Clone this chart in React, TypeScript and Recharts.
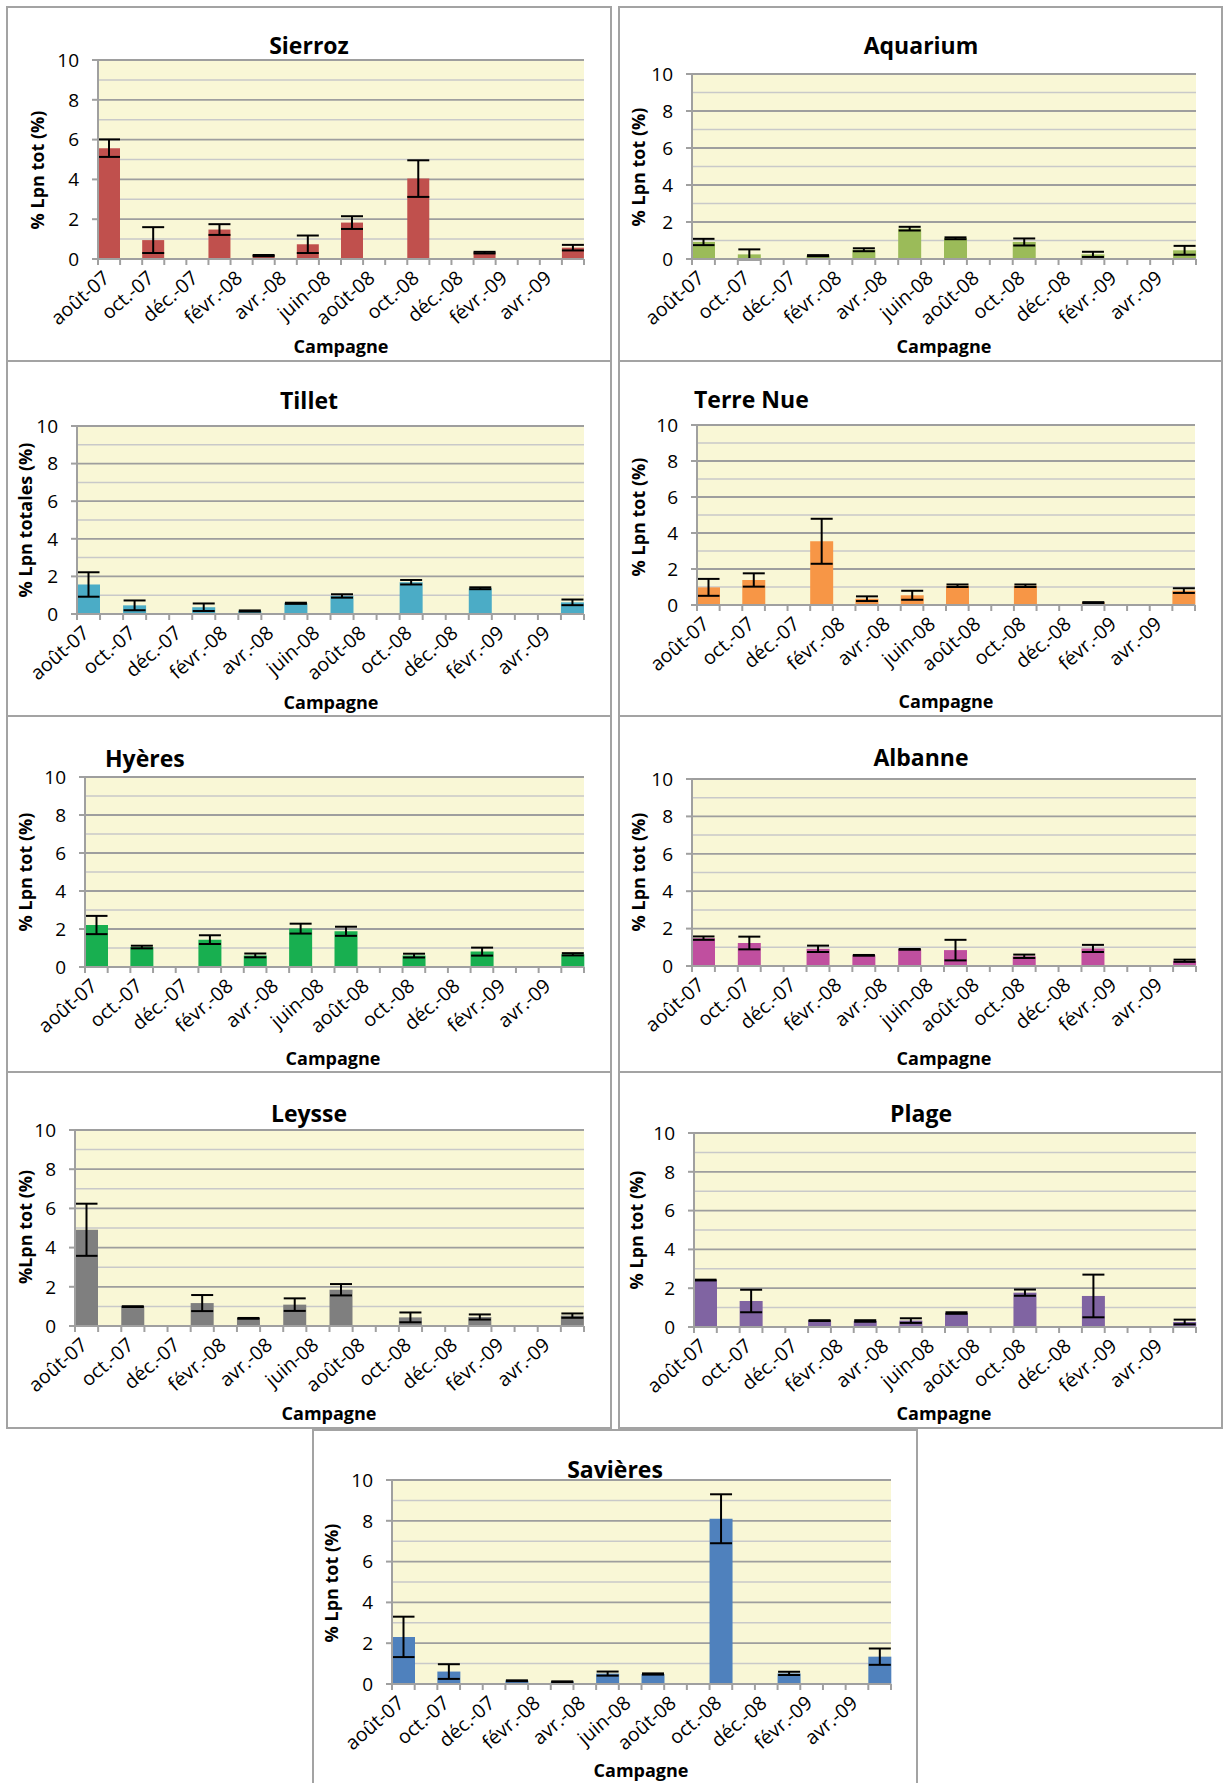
import React from 'react';
import { BarChart, Bar, XAxis, YAxis, CartesianGrid, ErrorBar } from 'recharts';

// ---------- data ----------
const months = ['août-07', 'sept.-07', 'oct.-07', 'nov.-07', 'déc.-07', 'janv.-08', 'févr.-08', 'mars-08', 'avr.-08', 'mai-08', 'juin-08', 'juil.-08', 'août-08', 'sept.-08', 'oct.-08', 'nov.-08', 'déc.-08', 'janv.-09', 'févr.-09', 'mars-09', 'avr.-09', 'mai-09'];
const campaigns = ['août-07', 'oct.-07', 'janv.-08', 'mars-08', 'mai-08', 'juil.-08', 'oct.-08', 'janv.-09', 'mai-09'];
const majorTicks = [0, 2, 4, 6, 8, 10];
const minorTicks = [1, 3, 5, 7, 9];

const sierrozValues = [5.57, 0.95, 1.48, 0.17, 0.74, 1.83, 4.04, 0.32, 0.57];
const sierrozErrors = [0.44, 0.65, 0.27, 0.03, 0.44, 0.32, 0.92, 0.04, 0.14];
const aquariumValues = [0.92, 0.25, 0.18, 0.5, 1.64, 1.12, 0.92, 0.25, 0.47];
const aquariumErrors = [0.17, 0.27, 0.03, 0.08, 0.1, 0.05, 0.19, 0.14, 0.24];
const tilletValues = [1.57, 0.46, 0.36, 0.16, 0.57, 0.96, 1.69, 1.37, 0.62];
const tilletErrors = [0.65, 0.26, 0.2, 0.03, 0.03, 0.09, 0.12, 0.05, 0.15];
const terreNueValues = [0.98, 1.39, 3.54, 0.35, 0.54, 1.07, 1.07, 0.13, 0.8];
const terreNueErrors = [0.47, 0.37, 1.25, 0.13, 0.25, 0.07, 0.07, 0.03, 0.13];
const hyeresValues = [2.21, 1.05, 1.44, 0.61, 2.02, 1.88, 0.6, 0.81, 0.67];
const hyeresErrors = [0.48, 0.07, 0.23, 0.1, 0.26, 0.24, 0.1, 0.21, 0.06];
const albanneValues = [1.49, 1.23, 0.92, 0.57, 0.89, 0.85, 0.52, 0.94, 0.28];
const albanneErrors = [0.09, 0.34, 0.17, 0.02, 0.02, 0.55, 0.09, 0.19, 0.06];
const leysseValues = [4.91, 0.99, 1.17, 0.39, 1.09, 1.85, 0.44, 0.46, 0.53];
const leysseErrors = [1.33, 0.02, 0.41, 0.02, 0.32, 0.29, 0.25, 0.13, 0.11];
const plageValues = [2.42, 1.34, 0.33, 0.31, 0.33, 0.72, 1.77, 1.6, 0.26];
const plageErrors = [0.02, 0.58, 0.02, 0.04, 0.12, 0.04, 0.16, 1.1, 0.12];
const savieresValues = [2.31, 0.61, 0.16, 0.11, 0.51, 0.49, 8.1, 0.52, 1.34];
const savieresErrors = [0.99, 0.36, 0.02, 0.02, 0.1, 0.03, 1.2, 0.08, 0.4];

const FONT = "'Open Sans', 'DejaVu Sans', sans-serif";
const BG = '#F9F7D6';
const AXIS = '#A0A0A0';

type Panel = {
  title: string; yLabel: string; color: string; values: number[]; errors: number[];
  box: [number, number, number, number];
  plot: [number, number, number, number]; // left, right, top, bottom
  titlePos: [number, number]; titleAlign: 'center' | 'left';
  xTitlePos: [number, number]; yTitlePos: [number, number];
};

const panels: Panel[] = [
  { title: 'Sierroz', yLabel: '% Lpn tot (%)', color: '#C0504D', values: sierrozValues, errors: sierrozErrors,
    box: [6, 6, 606, 356], plot: [98, 584, 60, 259], titlePos: [309, 45], titleAlign: 'center', xTitlePos: [341, 346], yTitlePos: [37, 170] },
  { title: 'Aquarium', yLabel: '% Lpn tot (%)', color: '#9BBB59', values: aquariumValues, errors: aquariumErrors,
    box: [618, 6, 605, 356], plot: [692, 1196, 74, 259], titlePos: [921, 45], titleAlign: 'center', xTitlePos: [944, 346], yTitlePos: [638, 167] },
  { title: 'Tillet', yLabel: '% Lpn totales (%)', color: '#4BACC6', values: tilletValues, errors: tilletErrors,
    box: [6, 360, 606, 357], plot: [77, 584, 426, 614], titlePos: [309, 400], titleAlign: 'center', xTitlePos: [331, 702], yTitlePos: [25, 520] },
  { title: 'Terre Nue', yLabel: '% Lpn tot (%)', color: '#F79646', values: terreNueValues, errors: terreNueErrors,
    box: [618, 360, 605, 357], plot: [697, 1195, 425, 605], titlePos: [694, 399], titleAlign: 'left', xTitlePos: [946, 701], yTitlePos: [638, 517] },
  { title: 'Hyères', yLabel: '% Lpn tot (%)', color: '#18AF50', values: hyeresValues, errors: hyeresErrors,
    box: [6, 715, 606, 358], plot: [85, 584, 777, 967], titlePos: [105, 758], titleAlign: 'left', xTitlePos: [333, 1058], yTitlePos: [25, 872] },
  { title: 'Albanne', yLabel: '% Lpn tot (%)', color: '#C04F9F', values: albanneValues, errors: albanneErrors,
    box: [618, 715, 605, 358], plot: [692, 1196, 779, 966], titlePos: [921, 757], titleAlign: 'center', xTitlePos: [944, 1058], yTitlePos: [638, 872] },
  { title: 'Leysse', yLabel: '%Lpn tot (%)', color: '#7F7F7F', values: leysseValues, errors: leysseErrors,
    box: [6, 1071, 606, 358], plot: [75, 584, 1130, 1326], titlePos: [309, 1113], titleAlign: 'center', xTitlePos: [329, 1413], yTitlePos: [25, 1227] },
  { title: 'Plage', yLabel: '% Lpn tot (%)', color: '#8064A2', values: plageValues, errors: plageErrors,
    box: [618, 1071, 605, 358], plot: [694, 1196, 1133, 1327], titlePos: [921, 1113], titleAlign: 'center', xTitlePos: [944, 1413], yTitlePos: [636, 1230] },
  { title: 'Savières', yLabel: '% Lpn tot (%)', color: '#4F81BD', values: savieresValues, errors: savieresErrors,
    box: [312, 1429, 606, 356], plot: [392, 891, 1480, 1684], titlePos: [615, 1469], titleAlign: 'center', xTitlePos: [641, 1770], yTitlePos: [331, 1583] },
];

function buildData(values: number[], errors: number[]) {
  return months.map((m) => {
    const k = campaigns.indexOf(m);
    return { month: m, value: k >= 0 ? values[k] : null, err: k >= 0 ? errors[k] : null };
  });
}

const XTick = (props: any) => {
  const { x, y, payload, bw } = props;
  const i = payload.index;
  const last = i === months.length - 1;
  const ax = x + 2;
  const ay = y + 21;
  return (
    <g>
      <line x1={x - bw / 2} y1={y} x2={x - bw / 2} y2={y + 6} stroke={AXIS} strokeWidth={2} />
      {last && <line x1={x + bw / 2} y1={y} x2={x + bw / 2} y2={y + 6} stroke={AXIS} strokeWidth={2} />}
      {i % 2 === 0 && (
        <text x={ax} y={ay} transform={`rotate(-41 ${ax} ${ay})`} textAnchor="end"
          fontSize={19.5} fontFamily={FONT} fill="#000">{payload.value}</text>
      )}
    </g>
  );
};

function ChartPanel({ p }: { p: Panel }) {
  const [bl, bt, bw, bh] = p.box;
  const [pl, pr, pt, pb] = p.plot;
  const yAxisW = 40;
  const data = buildData(p.values, p.errors);
  const band = (pr - pl) / months.length;
  const textStyle: React.CSSProperties = { position: 'absolute', fontFamily: FONT, fontWeight: 700, color: '#000', whiteSpace: 'nowrap', lineHeight: 1 };
  return (
    <>
      <div style={{ position: 'absolute', left: bl, top: bt, width: bw, height: bh, boxSizing: 'border-box', border: '2px solid #A3A3A3', background: '#fff' }} />
      <div style={{ position: 'absolute', left: bl, top: bt }}>
        <BarChart width={bw} height={bh} data={data} barCategoryGap={0} barGap={0}
          margin={{ top: pt - bt, left: pl - bl - yAxisW, right: bl + bw - pr, bottom: 0 }}>
          <CartesianGrid vertical={false} horizontalValues={minorTicks} stroke="#C9C9C9" strokeWidth={1.5} fill={BG} fillOpacity={1} />
          <CartesianGrid vertical={false} horizontalValues={majorTicks} stroke="#9E9E9E" strokeWidth={1.8} />
          <XAxis dataKey="month" interval={0} tickLine={false} tickSize={0} tickMargin={0}
            height={bt + bh - pb} axisLine={{ stroke: AXIS, strokeWidth: 2 }}
            tick={(tp: any) => <XTick {...tp} bw={band} />} />
          <YAxis domain={[0, 10]} ticks={majorTicks} interval={0} width={yAxisW} allowDataOverflow
            tick={{ fontSize: 19, fill: '#000', fontFamily: FONT }} tickSize={6} tickMargin={13}
            tickLine={{ stroke: AXIS, strokeWidth: 2 }} axisLine={{ stroke: AXIS, strokeWidth: 2 }} />
          <Bar dataKey="value" fill={p.color} isAnimationActive={false}>
            <ErrorBar dataKey="err" width={11} stroke="#000" strokeWidth={2} direction="y" isAnimationActive={false} />
          </Bar>
        </BarChart>
      </div>
      <div style={{ ...textStyle, fontSize: 23, left: p.titlePos[0], top: p.titlePos[1], transform: p.titleAlign === 'center' ? 'translate(-50%, -50%)' : 'translate(0, -50%)' }}>{p.title}</div>
      <div style={{ ...textStyle, fontSize: 18, left: p.xTitlePos[0], top: p.xTitlePos[1], transform: 'translate(-50%, -50%)' }}>Campagne</div>
      <div style={{ ...textStyle, fontSize: 18, left: p.yTitlePos[0], top: p.yTitlePos[1], transform: 'translate(-50%, -50%) rotate(-90deg)' }}>{p.yLabel}</div>
    </>
  );
}

export default function App() {
  return (
    <div style={{ position: 'fixed', left: 0, top: 0, width: 1223, height: 1783, overflow: 'hidden', background: '#fff' }}>
      {panels.map((p) => <ChartPanel key={p.title} p={p} />)}
    </div>
  );
}
